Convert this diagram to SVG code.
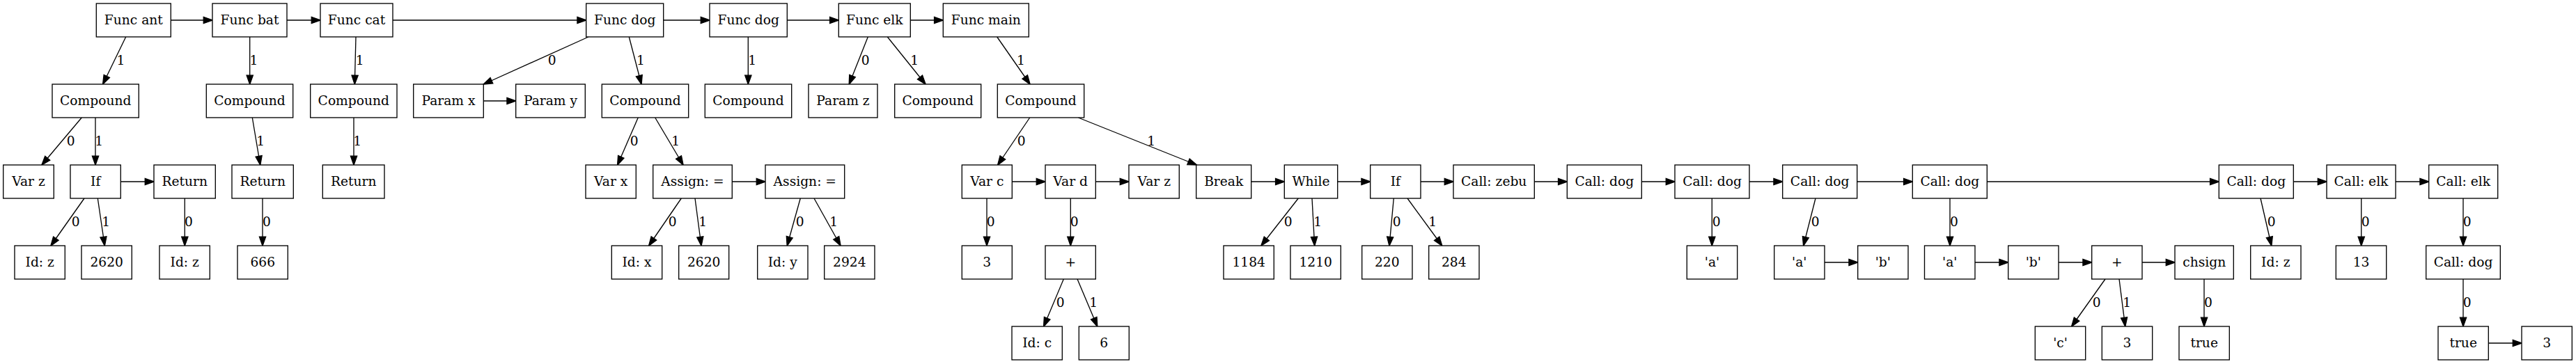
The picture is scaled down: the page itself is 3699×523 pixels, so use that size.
<svg xmlns="http://www.w3.org/2000/svg" width="3699" height="523" viewBox="0 0 3699 523">
<defs>
<marker id="a" markerUnits="userSpaceOnUse" markerWidth="16" markerHeight="12" refX="12.8" refY="4.67" orient="auto" overflow="visible"><path d="M0,0 L13.33,4.67 L0,9.33 z" fill="#000" stroke="#000" stroke-width="1.2" stroke-linejoin="miter"/></marker>
<style>
.n rect{fill:#fff;stroke:#000;stroke-width:1.33}
text{font-family:"DejaVu Serif","Liberation Serif",serif;font-size:18.67px;text-anchor:middle;fill:#000}
.e line{stroke:#000;stroke-width:1.33;marker-end:url(#a)}
</style>
</defs>
<rect width="3699" height="523" fill="#fff"/>
<g id="connectors" class="e">
<line x1="245.3" y1="29" x2="305" y2="29"/>
<line x1="412" y1="29" x2="460" y2="29"/>
<line x1="564" y1="29" x2="841.7" y2="29"/>
<line x1="952.7" y1="29" x2="1019" y2="29"/>
<line x1="1130.3" y1="29" x2="1204.3" y2="29"/>
<line x1="1307.3" y1="29" x2="1354.3" y2="29"/>
<line x1="180.7" y1="53" x2="147.7" y2="121"/><text x="173.5" y="92.5">1</text>
<line x1="358.7" y1="53" x2="358.7" y2="121"/><text x="364.5" y="92.5">1</text>
<line x1="511" y1="53" x2="509.3" y2="121"/><text x="516.7" y="92.5">1</text>
<line x1="845" y1="53" x2="694.3" y2="121"/><text x="792.7" y="92.5">0</text>
<line x1="903.3" y1="53" x2="921" y2="121"/><text x="920" y="92.5">1</text>
<line x1="1074.3" y1="53" x2="1074.3" y2="121"/><text x="1080.3" y="92.5">1</text>
<line x1="1246.3" y1="53" x2="1219.3" y2="121"/><text x="1242.7" y="92.5">0</text>
<line x1="1274.3" y1="53" x2="1329" y2="121"/><text x="1313.3" y="92.5">1</text>
<line x1="1431.7" y1="53" x2="1479" y2="121"/><text x="1466" y="92.5">1</text>
<line x1="694.3" y1="145" x2="740.7" y2="145"/>
<line x1="117.3" y1="169" x2="60" y2="237"/><text x="101.7" y="208.5">0</text>
<line x1="137" y1="169" x2="137" y2="237"/><text x="142.3" y="208.5">1</text>
<line x1="362.3" y1="169" x2="373.7" y2="237"/><text x="374.3" y="208.5">1</text>
<line x1="508" y1="169" x2="508" y2="237"/><text x="513.3" y="208.5">1</text>
<line x1="916.3" y1="169" x2="886.7" y2="237"/><text x="910.7" y="208.5">0</text>
<line x1="940.7" y1="169" x2="981" y2="237"/><text x="970.3" y="208.5">1</text>
<line x1="1478.7" y1="169" x2="1432.7" y2="237"/><text x="1466.7" y="208.5">0</text>
<line x1="1548.3" y1="169" x2="1718.3" y2="237"/><text x="1653.3" y="208.5">1</text>
<line x1="173.3" y1="261" x2="221" y2="261"/>
<line x1="1051.3" y1="261" x2="1099" y2="261"/>
<line x1="1453.3" y1="261" x2="1501" y2="261"/>
<line x1="1573.3" y1="261" x2="1621" y2="261"/>
<line x1="1796.7" y1="261" x2="1844.3" y2="261"/>
<line x1="1920.7" y1="261" x2="1967.7" y2="261"/>
<line x1="2040" y1="261" x2="2087" y2="261"/>
<line x1="2203.3" y1="261" x2="2250.3" y2="261"/>
<line x1="2357.3" y1="261" x2="2405" y2="261"/>
<line x1="2512" y1="261" x2="2559.7" y2="261"/>
<line x1="2666.7" y1="261" x2="2746.3" y2="261"/>
<line x1="2853.3" y1="261" x2="3186.3" y2="261"/>
<line x1="3293.3" y1="261" x2="3341" y2="261"/>
<line x1="3440" y1="261" x2="3487.7" y2="261"/>
<line x1="121" y1="285" x2="73" y2="353"/><text x="108.7" y="324.5">0</text>
<line x1="140.3" y1="285" x2="150.3" y2="353"/><text x="152.3" y="324.5">1</text>
<line x1="265.3" y1="285" x2="265.3" y2="353"/><text x="271" y="324.5">0</text>
<line x1="377" y1="285" x2="377" y2="353"/><text x="383" y="324.5">0</text>
<line x1="978.3" y1="285" x2="931.7" y2="353"/><text x="965.7" y="324.5">0</text>
<line x1="998" y1="285" x2="1007" y2="353"/><text x="1009.3" y="324.5">1</text>
<line x1="1149.3" y1="285" x2="1130.3" y2="353"/><text x="1148.7" y="324.5">0</text>
<line x1="1169" y1="285" x2="1207" y2="353"/><text x="1197.3" y="324.5">1</text>
<line x1="1417" y1="285" x2="1417" y2="353"/><text x="1422.7" y="324.5">0</text>
<line x1="1537.3" y1="285" x2="1537.3" y2="353"/><text x="1542.7" y="324.5">0</text>
<line x1="1864.3" y1="285" x2="1811" y2="353"/><text x="1849.7" y="324.5">0</text>
<line x1="1884" y1="285" x2="1887.7" y2="353"/><text x="1892.3" y="324.5">1</text>
<line x1="2001.3" y1="285" x2="1995" y2="353"/><text x="2005.7" y="324.5">0</text>
<line x1="2021" y1="285" x2="2070.7" y2="353"/><text x="2057.3" y="324.5">1</text>
<line x1="2458.3" y1="285" x2="2458.3" y2="353"/><text x="2464.7" y="324.5">0</text>
<line x1="2607" y1="285" x2="2589.7" y2="353"/><text x="2606.7" y="324.5">0</text>
<line x1="2800" y1="285" x2="2800" y2="353"/><text x="2806" y="324.5">0</text>
<line x1="3246" y1="285" x2="3261.7" y2="353"/><text x="3261.7" y="324.5">0</text>
<line x1="3390.7" y1="285" x2="3390.7" y2="353"/><text x="3396.7" y="324.5">0</text>
<line x1="3537" y1="285" x2="3537" y2="353"/><text x="3542.7" y="324.5">0</text>
<line x1="2620" y1="377" x2="2667.7" y2="377"/>
<line x1="2836" y1="377" x2="2883.7" y2="377"/>
<line x1="2956" y1="377" x2="3003.7" y2="377"/>
<line x1="3076" y1="377" x2="3123" y2="377"/>
<line x1="1527.3" y1="401" x2="1498.7" y2="469"/><text x="1522.7" y="440.5">0</text>
<line x1="1547" y1="401" x2="1575.7" y2="469"/><text x="1570.3" y="440.5">1</text>
<line x1="3023" y1="401" x2="2974.7" y2="469"/><text x="3010.7" y="440.5">0</text>
<line x1="3043" y1="401" x2="3051.7" y2="469"/><text x="3054.3" y="440.5">1</text>
<line x1="3165" y1="401" x2="3165" y2="469"/><text x="3171" y="440.5">0</text>
<line x1="3537" y1="401" x2="3537" y2="469"/><text x="3542.7" y="440.5">0</text>
<line x1="3573.3" y1="493" x2="3621" y2="493"/>
</g>
<g id="n1" class="n"><rect x="138.3" y="5" width="107" height="48"/><text x="191.8" y="34.5">Func ant</text></g>
<g id="n2" class="n"><rect x="305" y="5" width="107" height="48"/><text x="358.5" y="34.5">Func bat</text></g>
<g id="n3" class="n"><rect x="460" y="5" width="104" height="48"/><text x="512" y="34.5">Func cat</text></g>
<g id="n4" class="n"><rect x="841.7" y="5" width="111" height="48"/><text x="897.2" y="34.5">Func dog</text></g>
<g id="n5" class="n"><rect x="1019" y="5" width="111.3" height="48"/><text x="1074.7" y="34.5">Func dog</text></g>
<g id="n6" class="n"><rect x="1204.3" y="5" width="103" height="48"/><text x="1255.8" y="34.5">Func elk</text></g>
<g id="n7" class="n"><rect x="1354.3" y="5" width="123" height="48"/><text x="1415.8" y="34.5">Func main</text></g>
<g id="n8" class="n"><rect x="75" y="121" width="124.3" height="48"/><text x="137.2" y="150.5">Compound</text></g>
<g id="n9" class="n"><rect x="296.3" y="121" width="124.4" height="48"/><text x="358.5" y="150.5">Compound</text></g>
<g id="n10" class="n"><rect x="445.7" y="121" width="124.3" height="48"/><text x="507.8" y="150.5">Compound</text></g>
<g id="n11" class="n"><rect x="593.7" y="121" width="100.6" height="48"/><text x="644" y="150.5">Param x</text></g>
<g id="n12" class="n"><rect x="740.7" y="121" width="99.6" height="48"/><text x="790.5" y="150.5">Param y</text></g>
<g id="n13" class="n"><rect x="864.3" y="121" width="124.4" height="48"/><text x="926.5" y="150.5">Compound</text></g>
<g id="n14" class="n"><rect x="1012.3" y="121" width="124.4" height="48"/><text x="1074.5" y="150.5">Compound</text></g>
<g id="n15" class="n"><rect x="1161" y="121" width="99" height="48"/><text x="1210.5" y="150.5">Param z</text></g>
<g id="n16" class="n"><rect x="1284.7" y="121" width="124" height="48"/><text x="1346.7" y="150.5">Compound</text></g>
<g id="n17" class="n"><rect x="1432.3" y="121" width="124.4" height="48"/><text x="1494.5" y="150.5">Compound</text></g>
<g id="n18" class="n"><rect x="4.7" y="237" width="72.6" height="48"/><text x="41" y="266.5">Var z</text></g>
<g id="n19" class="n"><rect x="101" y="237" width="72.3" height="48"/><text x="137.2" y="266.5">If</text></g>
<g id="n20" class="n"><rect x="221" y="237" width="88.3" height="48"/><text x="265.2" y="266.5">Return</text></g>
<g id="n21" class="n"><rect x="333" y="237" width="88.3" height="48"/><text x="377.2" y="266.5">Return</text></g>
<g id="n22" class="n"><rect x="463.3" y="237" width="88.7" height="48"/><text x="507.7" y="266.5">Return</text></g>
<g id="n23" class="n"><rect x="841" y="237" width="72.3" height="48"/><text x="877.2" y="266.5">Var x</text></g>
<g id="n24" class="n"><rect x="937.7" y="237" width="113.6" height="48"/><text x="994.5" y="266.5">Assign: =</text></g>
<g id="n25" class="n"><rect x="1099" y="237" width="113.7" height="48"/><text x="1155.8" y="266.5">Assign: =</text></g>
<g id="n26" class="n"><rect x="1381.3" y="237" width="72" height="48"/><text x="1417.3" y="266.5">Var c</text></g>
<g id="n27" class="n"><rect x="1501" y="237" width="72.3" height="48"/><text x="1537.2" y="266.5">Var d</text></g>
<g id="n28" class="n"><rect x="1621" y="237" width="72.3" height="48"/><text x="1657.2" y="266.5">Var z</text></g>
<g id="n29" class="n"><rect x="1717.7" y="237" width="79" height="48"/><text x="1757.2" y="266.5">Break</text></g>
<g id="n30" class="n"><rect x="1844.3" y="237" width="76.4" height="48"/><text x="1882.5" y="266.5">While</text></g>
<g id="n31" class="n"><rect x="1967.7" y="237" width="72.3" height="48"/><text x="2003.8" y="266.5">If</text></g>
<g id="n32" class="n"><rect x="2087" y="237" width="116.3" height="48"/><text x="2145.2" y="266.5">Call: zebu</text></g>
<g id="n33" class="n"><rect x="2250.3" y="237" width="107" height="48"/><text x="2303.8" y="266.5">Call: dog</text></g>
<g id="n34" class="n"><rect x="2405" y="237" width="107" height="48"/><text x="2458.5" y="266.5">Call: dog</text></g>
<g id="n35" class="n"><rect x="2559.7" y="237" width="107" height="48"/><text x="2613.2" y="266.5">Call: dog</text></g>
<g id="n36" class="n"><rect x="2746.3" y="237" width="107" height="48"/><text x="2799.8" y="266.5">Call: dog</text></g>
<g id="n37" class="n"><rect x="3186.3" y="237" width="107" height="48"/><text x="3239.8" y="266.5">Call: dog</text></g>
<g id="n38" class="n"><rect x="3341" y="237" width="99" height="48"/><text x="3390.5" y="266.5">Call: elk</text></g>
<g id="n39" class="n"><rect x="3487.7" y="237" width="99" height="48"/><text x="3537.2" y="266.5">Call: elk</text></g>
<g id="n40" class="n"><rect x="21" y="353" width="72.3" height="48"/><text x="57.2" y="382.5">Id: z</text></g>
<g id="n41" class="n"><rect x="117" y="353" width="72.3" height="48"/><text x="153.2" y="382.5">2620</text></g>
<g id="n42" class="n"><rect x="229" y="353" width="72.3" height="48"/><text x="265.2" y="382.5">Id: z</text></g>
<g id="n43" class="n"><rect x="341" y="353" width="72.3" height="48"/><text x="377.2" y="382.5">666</text></g>
<g id="n44" class="n"><rect x="878.3" y="353" width="72.4" height="48"/><text x="914.5" y="382.5">Id: x</text></g>
<g id="n45" class="n"><rect x="974.7" y="353" width="72" height="48"/><text x="1010.7" y="382.5">2620</text></g>
<g id="n46" class="n"><rect x="1087.7" y="353" width="72.3" height="48"/><text x="1123.8" y="382.5">Id: y</text></g>
<g id="n47" class="n"><rect x="1183.7" y="353" width="72.3" height="48"/><text x="1219.8" y="382.5">2924</text></g>
<g id="n48" class="n"><rect x="1381.3" y="353" width="72" height="48"/><text x="1417.3" y="382.5">3</text></g>
<g id="n49" class="n"><rect x="1501" y="353" width="72.3" height="48"/><text x="1537.2" y="382.5">+</text></g>
<g id="n50" class="n"><rect x="1757" y="353" width="72.3" height="48"/><text x="1793.2" y="382.5">1184</text></g>
<g id="n51" class="n"><rect x="1853" y="353" width="72.3" height="48"/><text x="1889.2" y="382.5">1210</text></g>
<g id="n52" class="n"><rect x="1955.7" y="353" width="72.3" height="48"/><text x="1991.8" y="382.5">220</text></g>
<g id="n53" class="n"><rect x="2051.7" y="353" width="72.3" height="48"/><text x="2087.8" y="382.5">284</text></g>
<g id="n54" class="n"><rect x="2422.3" y="353" width="72.4" height="48"/><text x="2458.5" y="382.5">'a'</text></g>
<g id="n55" class="n"><rect x="2547.7" y="353" width="72.3" height="48"/><text x="2583.8" y="382.5">'a'</text></g>
<g id="n56" class="n"><rect x="2667.7" y="353" width="72.3" height="48"/><text x="2703.8" y="382.5">'b'</text></g>
<g id="n57" class="n"><rect x="2763.5" y="353" width="72.5" height="48"/><text x="2799.7" y="382.5">'a'</text></g>
<g id="n58" class="n"><rect x="2883.7" y="353" width="72.3" height="48"/><text x="2919.8" y="382.5">'b'</text></g>
<g id="n59" class="n"><rect x="3003.7" y="353" width="72.3" height="48"/><text x="3039.8" y="382.5">+</text></g>
<g id="n60" class="n"><rect x="3123" y="353" width="84.3" height="48"/><text x="3165.2" y="382.5">chsign</text></g>
<g id="n61" class="n"><rect x="3231.7" y="353" width="72.3" height="48"/><text x="3267.8" y="382.5">Id: z</text></g>
<g id="n62" class="n"><rect x="3354.3" y="353" width="72.4" height="48"/><text x="3390.5" y="382.5">13</text></g>
<g id="n63" class="n"><rect x="3483.7" y="353" width="106.6" height="48"/><text x="3537" y="382.5">Call: dog</text></g>
<g id="n64" class="n"><rect x="1453" y="469" width="72.3" height="48"/><text x="1489.2" y="498.5">Id: c</text></g>
<g id="n65" class="n"><rect x="1549.3" y="469" width="72" height="48"/><text x="1585.3" y="498.5">6</text></g>
<g id="n66" class="n"><rect x="2922.3" y="469" width="72.4" height="48"/><text x="2958.5" y="498.5">'c'</text></g>
<g id="n67" class="n"><rect x="3018.3" y="469" width="72.4" height="48"/><text x="3054.5" y="498.5">3</text></g>
<g id="n68" class="n"><rect x="3129" y="469" width="72.3" height="48"/><text x="3165.2" y="498.5">true</text></g>
<g id="n69" class="n"><rect x="3501" y="469" width="72.3" height="48"/><text x="3537.2" y="498.5">true</text></g>
<g id="n70" class="n"><rect x="3621" y="469" width="72.3" height="48"/><text x="3657.2" y="498.5">3</text></g>
</svg>
